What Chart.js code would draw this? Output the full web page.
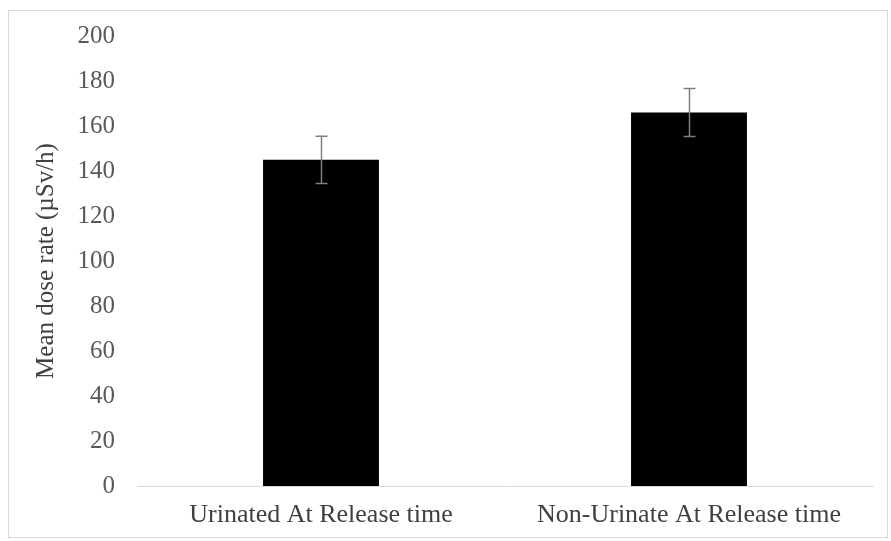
<!DOCTYPE html>
<html>
<head>
<meta charset="utf-8">
<script src="https://cdn.jsdelivr.net/npm/chart.js@4"></script>
<style>
  body { margin: 0; background: #fff; }
  #box { position: absolute; left: 8px; top: 10px; width: 878px; height: 526px; border: 1px solid #d9d9d9; }
</style>
</head>
<body>
<div id="box"><canvas id="doseChart" width="878" height="526"></canvas></div>
<script>
var categoryLabels = ['Urinated At Release time', 'Non-Urinate At Release time'];
var meanValues = [145, 166];
var errorValues = [10.5, 10.7];
var yTicks = [0, 20, 40, 60, 80, 100, 120, 140, 160, 180, 200];

// error bars drawn on top of the bars
var errorBarPlugin = {
    id: 'errorBars',
    afterDatasetsDraw: function(chart) {
        var ctx = chart.ctx;
        var meta = chart.getDatasetMeta(0);
        var y = chart.scales.y;
        ctx.save();
        ctx.strokeStyle = '#7f7f7f';
        ctx.lineWidth = 1.5;
        meta.data.forEach(function(bar, i) {
            var top = y.getPixelForValue(meanValues[i] + errorValues[i]);
            var bottom = y.getPixelForValue(meanValues[i] - errorValues[i]);
            var x = Math.round(bar.x) + 0.5;
            ctx.beginPath();
            ctx.moveTo(x, top);
            ctx.lineTo(x, bottom);
            ctx.moveTo(x - 6, top);
            ctx.lineTo(x + 6, top);
            ctx.moveTo(x - 6, bottom);
            ctx.lineTo(x + 6, bottom);
            ctx.stroke();
        });
        ctx.restore();
    }
};

var ctx = document.getElementById('doseChart').getContext('2d');
var doseChart = new Chart(ctx, {
    type: 'bar',
    data: {
        labels: categoryLabels,
        datasets: [{
            data: meanValues,
            backgroundColor: '#000000',
            borderWidth: 0,
            categoryPercentage: 1,
            barPercentage: 0.315
        }]
    },
    options: {
        responsive: false,
        animation: false,
        layout: { padding: { left: 0, right: 14, top: 25, bottom: 0 } },
        plugins: {
            legend: { display: false },
            tooltip: { enabled: false }
        },
        scales: {
            x: {
                grid: { display: false, drawTicks: false },
                border: { display: true, color: '#d9d9d9', width: 1 },
                ticks: {
                    color: '#404040',
                    padding: 14,
                    font: { family: 'Liberation Serif', size: 26 }
                },
                afterFit: function(scale) {
                    scale.height = 51;
                    scale.paddingLeft = 0;
                    scale.paddingRight = 0;
                }
            },
            y: {
                min: 0,
                max: 200,
                afterBuildTicks: function(scale) {
                    scale.ticks = yTicks.map(function(v) { return { value: v }; });
                },
                grid: { display: false, drawTicks: false },
                border: { display: false },
                ticks: {
                    color: '#595959',
                    padding: 22,
                    font: { family: 'Liberation Serif', size: 25 }
                },
                title: {
                    display: true,
                    text: 'Mean dose rate (µSv/h)',
                    color: '#404040',
                    font: { family: 'Liberation Serif', size: 25 },
                    padding: { top: 22, bottom: 0 }
                },
                afterFit: function(scale) {
                    scale.width = 128;
                    scale.paddingTop = 0;
                    scale.paddingBottom = 0;
                }
            }
        }
    },
    plugins: [errorBarPlugin]
});
</script>
</body>
</html>
